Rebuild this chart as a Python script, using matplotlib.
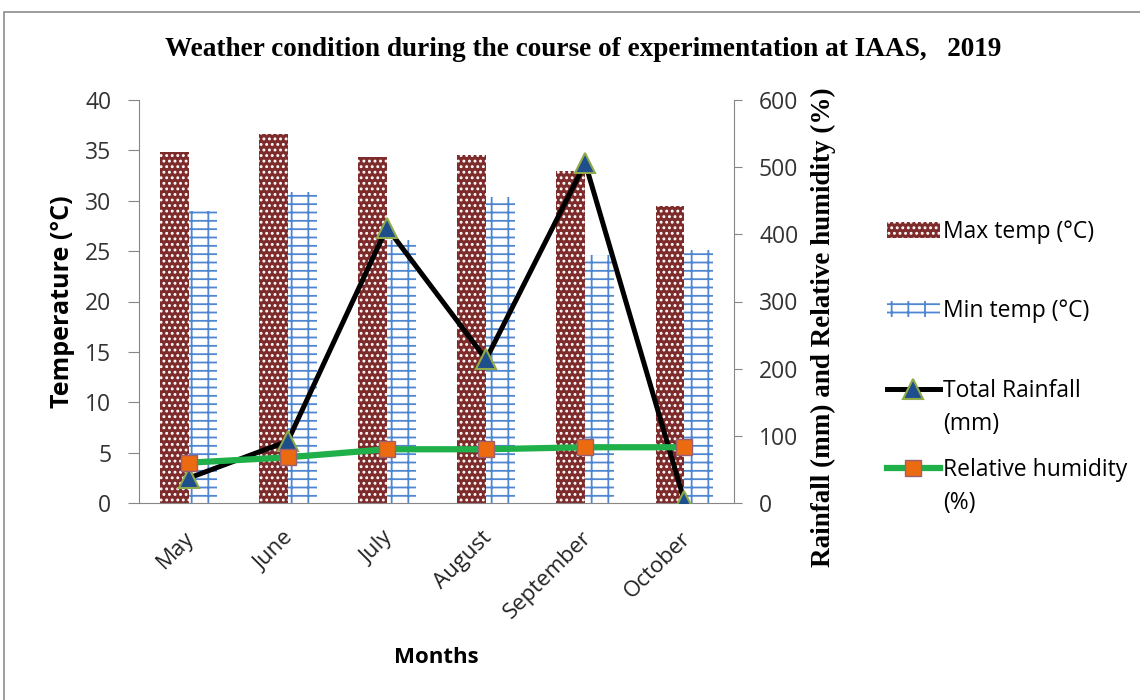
import numpy as np
import matplotlib
matplotlib.use("Agg")
from matplotlib import pyplot as plt
from matplotlib.patches import Rectangle
from matplotlib.transforms import ScaledTranslation

# data
months = ["May", "June", "July", "August", "September", "October"]
max_temp = [34.8, 36.6, 34.3, 34.5, 33.0, 29.5]
min_temp = [29.0, 30.9, 26.1, 30.4, 24.6, 25.1]
rainfall = [37, 92, 410, 214, 506, 3]
humidity = [60, 68, 80, 80, 83, 83]

plt.rcParams['font.family'] = ['Open Sans', 'DejaVu Sans']
plt.rcParams['hatch.linewidth'] = 1.3

W, H = 1140, 700
fig = plt.figure(figsize=(W / 100, H / 100), dpi=100)
ax = fig.add_axes([139 / W, 1 - 503 / H, (734 - 139) / W, (503 - 100) / H])
ax2 = ax.twinx()

x = np.arange(len(months))
bw = 0.29
maroon = '#7e2b2b'
blue = '#4f86d0'

b1 = ax.bar(x - bw / 2, max_temp, bw, color=maroon, edgecolor='white',
            linewidth=0, hatch='...', label='Max temp (°C)')
b2 = ax.bar(x + bw / 2, min_temp, bw, color='white', edgecolor=blue,
            linewidth=0, hatch='--|', label='Min temp (°C)')

l1, = ax2.plot(x, rainfall, color='black', lw=3.6, marker='^', ms=14,
               mfc='#1f4e8c', mec='#8faa4a', mew=1.5,
               label='Total Rainfall')
l2, = ax2.plot(x, humidity, color='#1fb04a', lw=4.5, marker='s', ms=12,
               mfc='#ec6a10', mec='#9a6070', mew=1,
               label='Relative humidity')

ax.set_xlim(-0.5, len(months) - 0.5)
ax.set_ylim(0, 40)
ax.set_yticks(np.arange(0, 41, 5))
ax2.set_ylim(0, 600)
ax2.set_yticks(np.arange(0, 601, 100))

grey = '#868686'
for a in (ax, ax2):
    a.spines['top'].set_visible(False)
    for s in ('left', 'right', 'bottom'):
        a.spines[s].set_color(grey)
ax.spines['right'].set_visible(False)
ax2.spines['left'].set_visible(False)
ax2.spines['bottom'].set_visible(False)

ax.tick_params(axis='y', length=8, color=grey, labelsize=16.5, labelcolor='#333333', pad=12)
ax2.tick_params(axis='y', length=6, color=grey, labelsize=16.5, labelcolor='#333333', pad=12)
ax.tick_params(axis='x', length=0, labelsize=16, labelcolor='#222222', pad=23)
ax.set_xticks(x)
ax.set_xticklabels(months, rotation=45, ha='right', va='center', rotation_mode='anchor')
shift = ScaledTranslation(2 / 72, 0, fig.dpi_scale_trans)
for lab in ax.get_xticklabels():
    lab.set_transform(lab.get_transform() + shift)

ax.set_ylabel('Temperature (°C)', fontsize=18, fontweight='bold')
ax.yaxis.set_label_coords(-0.108, 0.5)
ax.set_xlabel('Months', fontsize=16, fontweight='bold')
ax.xaxis.set_label_coords(0.5, (503 - 647) / 403)
fig.text(823 / W, 1 - 327 / H, 'Rainfall (mm) and Relative humidity (%)',
         rotation=90, ha='center', va='center', fontsize=19.5,
         fontweight='bold', family='Liberation Serif')

fig.text(583 / W, 1 - 50 / H,
         'Weather condition during the course of experimentation at IAAS,   2019',
         ha='center', va='center', fontsize=19.6, fontweight='bold',
         family='Liberation Serif')

ax2.set_zorder(ax.get_zorder() + 1)
ax2.patch.set_visible(False)

leg = fig.legend([b1, b2, l1, l2],
                 [b1.get_label(), b2.get_label(), l1.get_label(), l2.get_label()],
                 loc='upper left', bbox_to_anchor=(887 / W, 1 - 220 / H),
                 frameon=False, fontsize=16.5, labelspacing=2.42, handlelength=2.3,
                 handletextpad=0.15, borderaxespad=0, borderpad=0)

# second lines of the two long legend labels
fig.canvas.draw()
for t, extra in zip(leg.get_texts()[2:], ['(mm)', '(%)']):
    bb = t.get_window_extent()
    fig.text(bb.x0 / W, (bb.y0 - 33) / H, extra, fontsize=16.5, ha='left', va='bottom')

# outer chart border
fig.add_artist(Rectangle((4 / W, -0.1), 1.2, 1 - 12 / H + 0.1,
                         transform=fig.transFigure, fill=False,
                         edgecolor='#8c8c8c', lw=1.2))

fig.savefig('out.png', dpi=100)
